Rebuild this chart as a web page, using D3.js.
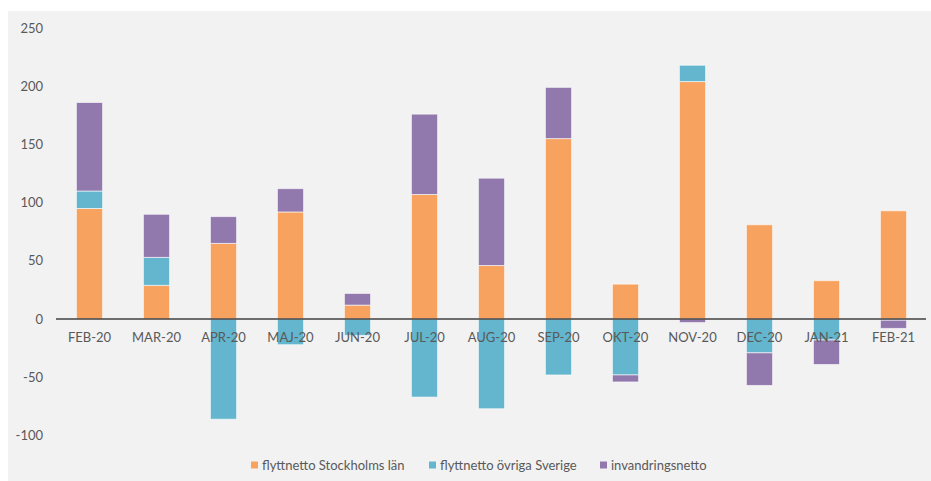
<!DOCTYPE html>
<html>
<head>
<meta charset="utf-8">
<title>Flyttnetto</title>
<script src="https://cdn.jsdelivr.net/npm/d3@7"></script>
<style>
  body { margin: 0; background: #fff; }
  text { font-family: Lato, "Open Sans", sans-serif; fill: #595959; }
</style>
</head>
<body>
<svg id="chart" width="931" height="481"></svg>
<script>
// months and the three series (people)
var months = ["FEB-20", "MAR-20", "APR-20", "MAJ-20", "JUN-20", "JUL-20", "AUG-20",
              "SEP-20", "OKT-20", "NOV-20", "DEC-20", "JAN-21", "FEB-21"];
var stockholm = [95, 29, 65, 92, 12, 107, 46, 155, 30, 204, 81, 33, 93];
var ovriga    = [15, 24, -86, -22, -14, -67, -77, -48, -48, 14, -29, -18, -1];
var invandr   = [76, 37, 23, 20, 10, 69, 75, 44, -6, -3, -28, -21, -7];
var yTicks = [-100, -50, 0, 50, 100, 150, 200, 250];

var seriesNames = ["flyttnetto Stockholms län", "flyttnetto övriga Sverige", "invandringsnetto"];
var colors = ["#f7a35f", "#63b6cd", "#9178ad"];

var svg = d3.select("#chart");

// grey chart area
svg.append("rect")
  .attr("x", 8).attr("y", 11)
  .attr("width", 931 - 8).attr("height", 481 - 11)
  .attr("fill", "#f2f2f2");

var x = d3.scaleBand().domain(months).range([56, 927]).paddingInner(0.61).paddingOuter(0.305);
var y = d3.scaleLinear().domain([-100, 250]).range([435.5, 28]);

// build rows for d3.stack with diverging offset
var rows = months.map(function(m, i) {
  return { month: m, s0: stockholm[i], s1: ovriga[i], s2: invandr[i] };
});
var stacked = d3.stack().keys(["s0", "s1", "s2"]).offset(d3.stackOffsetDiverging)(rows);

svg.append("g").selectAll("g")
  .data(stacked)
  .join("g")
  .attr("fill", function(d, i) { return colors[i]; })
  .selectAll("rect")
  .data(function(d) { return d; })
  .join("rect")
  .attr("x", function(d) { return x(d.data.month); })
  .attr("width", x.bandwidth())
  .attr("y", function(d) { return y(Math.max(d[0], d[1])); })
  .attr("height", function(d) { return Math.abs(y(d[0]) - y(d[1])); })
  .attr("stroke", "rgba(255,255,255,0.6)")
  .attr("stroke-width", 1);

// zero line
svg.append("line")
  .attr("x1", 56).attr("x2", 926)
  .attr("y1", y(0)).attr("y2", y(0))
  .attr("stroke", "#404040").attr("stroke-width", 1.5);

// y tick labels
svg.append("g").selectAll("text")
  .data(yTicks)
  .join("text")
  .attr("x", 43)
  .attr("y", function(d) { return y(d); })
  .attr("dy", "0.35em")
  .attr("text-anchor", "end")
  .attr("font-size", 13)
  .text(function(d) { return d; });

// month labels under the zero line
svg.append("g").selectAll("text")
  .data(months)
  .join("text")
  .attr("x", function(d) { return x(d) + x.bandwidth() / 2; })
  .attr("y", 337)
  .attr("dy", "0.35em")
  .attr("text-anchor", "middle")
  .attr("font-size", 13)
  .text(function(d) { return d; });

// legend
var legendX = [251, 429, 600];
var legend = svg.append("g").selectAll("g")
  .data(seriesNames)
  .join("g")
  .attr("transform", function(d, i) { return "translate(" + legendX[i] + ",465)"; });
legend.append("rect")
  .attr("x", 0).attr("y", -3.5)
  .attr("width", 7).attr("height", 7)
  .attr("fill", function(d, i) { return colors[i]; });
legend.append("text")
  .attr("x", 11)
  .attr("dy", "0.35em")
  .attr("font-size", 13)
  .text(function(d) { return d; });
</script>
</body>
</html>
